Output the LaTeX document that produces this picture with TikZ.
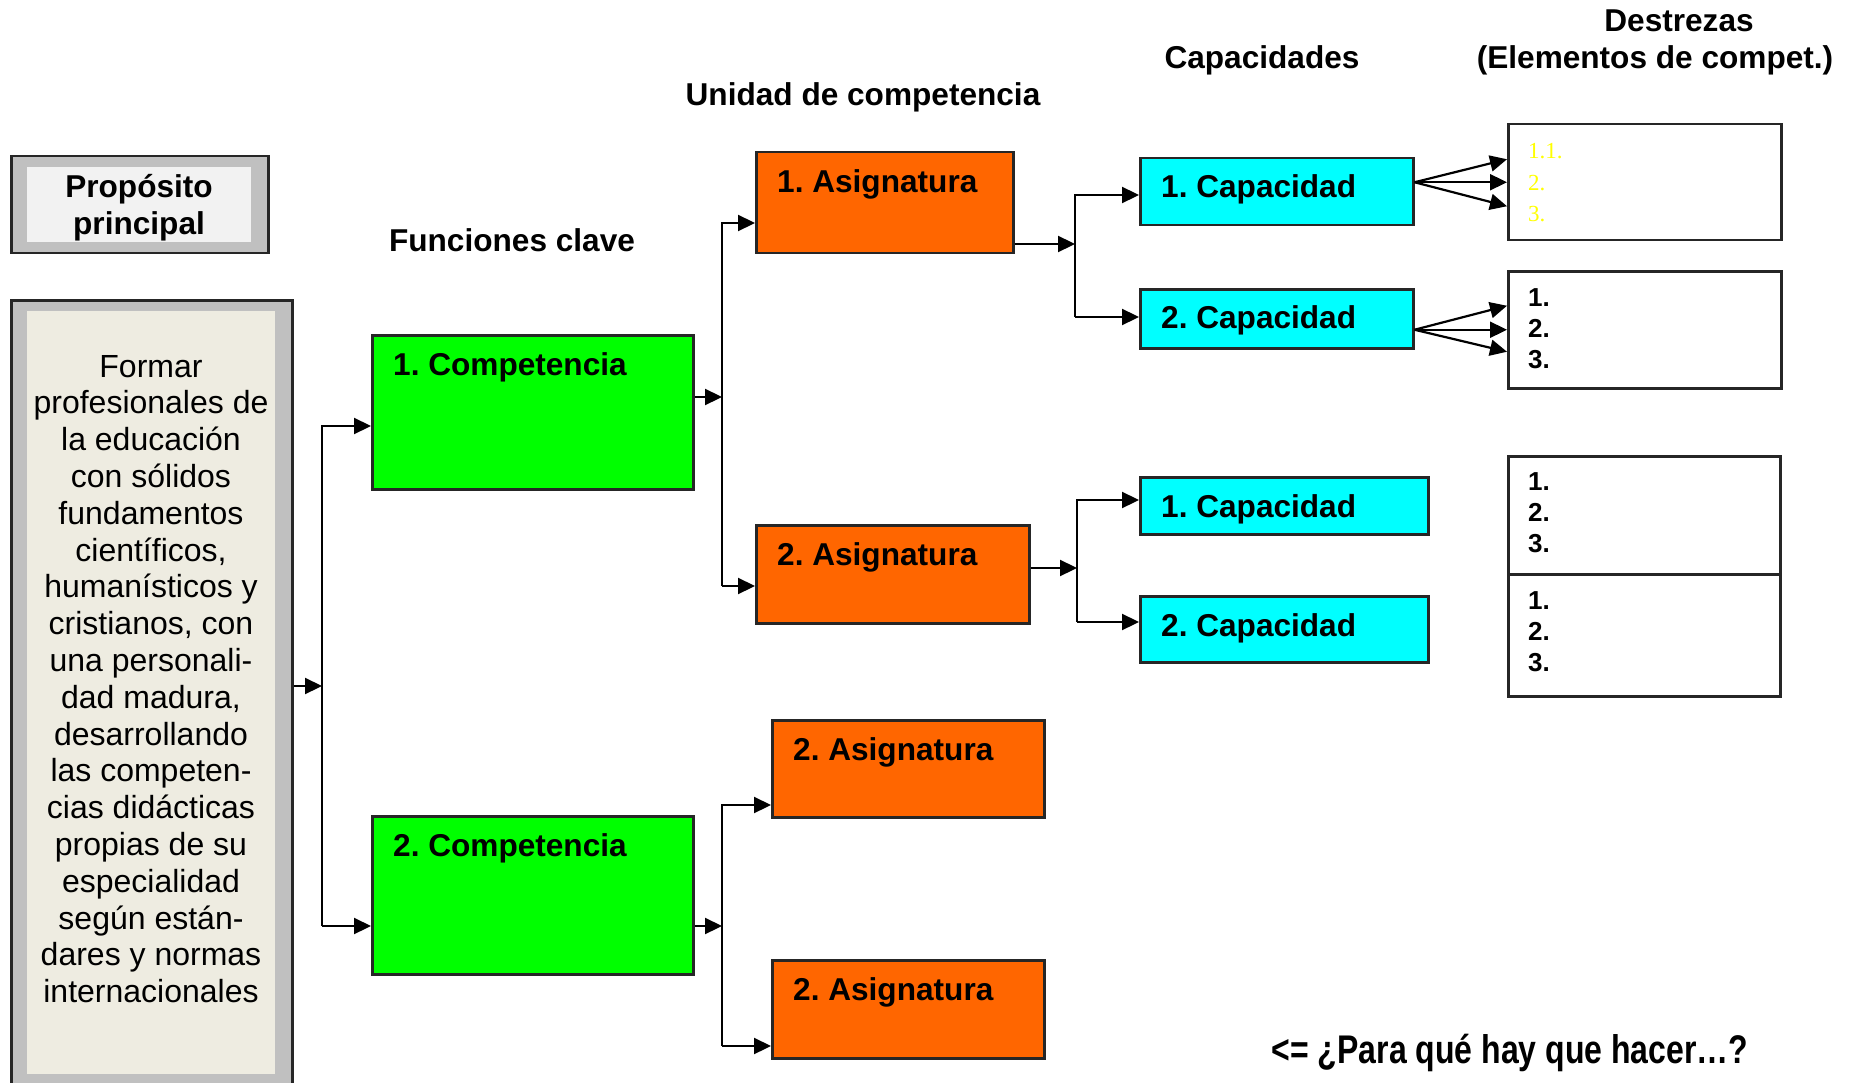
\documentclass[tikz,border=0pt]{standalone}
\usepackage{fontspec}
\setmainfont{Liberation Sans}
\newfontfamily\serifa{Liberation Serif}
\newfontfamily\estrecha[FakeStretch=0.8]{Liberation Sans}
\usetikzlibrary{arrows.meta,positioning,calc}
\frenchspacing

\definecolor{verde}{HTML}{00FF00}
\definecolor{naranja}{HTML}{FF6600}
\definecolor{celeste}{HTML}{00FFFF}
\definecolor{grisborde}{HTML}{C0C0C0}
\definecolor{grisclaro}{HTML}{F2F2F2}
\definecolor{beige}{HTML}{EEECE1}
\definecolor{amarillo}{HTML}{FFFF00}

\begin{document}
\begin{tikzpicture}[x=1pt,y=-1pt,
  caja/.style={rectangle,draw=black!85,line width=2.5pt,anchor=north west,inner sep=0pt},
  panel/.style={rectangle,anchor=north west,inner sep=0pt},
  etiqueta/.style={anchor=base west,inner sep=0pt,font=\fontsize{31.6}{38}\selectfont\bfseries},
  titulo/.style={anchor=base,inner sep=0pt,font=\fontsize{31.6}{37}\selectfont\bfseries},
  numeros/.style={anchor=base west,inner sep=0pt,align=left,text width=80pt,font=\fontsize{26}{31.3}\selectfont\bfseries},
  flecha/.style={line width=2.2pt,-{Triangle[length=17pt,width=16pt]}},
  linea/.style={line width=2.2pt}]
\useasboundingbox (0,0) rectangle (1854,1083);

% column headings
\node[titulo, name=hdestrezas] at (1679,32) {Destrezas};
\node[titulo, name=helementos] at (1655,69) {(Elementos de compet.)};
\node[titulo, name=hcapacidades] at (1262,69) {Capacidades};
\node[titulo, name=hunidad] at (863,106) {Unidad de competencia};
\node[titulo, name=hfunciones] at (512,252) {Funciones clave};

% purpose boxes
\node[caja, fill=grisborde, minimum width=257pt, minimum height=97pt, name=cabecera] at (10,155) {};
\node[panel, fill=grisclaro, minimum width=224pt, minimum height=75pt, name=cabecerafondo] at (27,167) {};
\node[align=center, font=\fontsize{31.6}{37}\selectfont\bfseries, inner sep=0pt, name=cabeceratexto] at (139,207.5) {Propósito\\principal};

\node[caja, fill=grisborde, minimum width=281pt, minimum height=796pt, name=proposito] at (10,299) {};
\node[panel, fill=beige, minimum width=248pt, minimum height=763pt, name=propositofondo] at (27,311) {};
\node[align=center, font=\fontsize{32}{36.8}\selectfont, inner sep=0pt, name=propositotexto] at (151,679)
  {Formar\\profesionales de\\la educación\\con sólidos\\fundamentos\\científicos,\\humanísticos y\\cristianos, con\\una personali-\\dad madura,\\desarrollando\\las competen-\\cias didácticas\\propias de su\\especialidad\\según están-\\dares y normas\\internacionales};

% key functions
\node[caja, fill=verde, minimum width=321pt, minimum height=154pt, name=comp1] at (371,334) {};
\node[caja, fill=verde, minimum width=321pt, minimum height=158pt, name=comp2] at (371,815) {};
\node[etiqueta, name=comp1t] at ([shift={(22pt,-41.5pt)}]comp1.north west) {1. Competencia};
\node[etiqueta, name=comp2t] at ([shift={(22pt,-41.5pt)}]comp2.north west) {2. Competencia};

% subjects
\node[caja, fill=naranja, minimum width=257pt, minimum height=101pt, name=asig1] at (755,151) {};
\node[caja, fill=naranja, minimum width=273pt, minimum height=98pt, name=asig2] at (755,524) {};
\node[caja, fill=naranja, minimum width=272pt, minimum height=97pt, name=asig3] at (771,719) {};
\node[caja, fill=naranja, minimum width=272pt, minimum height=98pt, name=asig4] at (771,959) {};
\node[etiqueta, name=asig1t] at ([shift={(22pt,-41.5pt)}]asig1.north west) {1. Asignatura};
\node[etiqueta, name=asig2t] at ([shift={(22pt,-41.5pt)}]asig2.north west) {2. Asignatura};
\node[etiqueta, name=asig3t] at ([shift={(22pt,-41.5pt)}]asig3.north west) {2. Asignatura};
\node[etiqueta, name=asig4t] at ([shift={(22pt,-41.5pt)}]asig4.north west) {2. Asignatura};

% capacities
\node[caja, fill=celeste, minimum width=273pt, minimum height=67pt, name=cap1] at (1139,157) {};
\node[caja, fill=celeste, minimum width=273pt, minimum height=59pt, name=cap2] at (1139,288) {};
\node[caja, fill=celeste, minimum width=288pt, minimum height=57pt, name=cap3] at (1139,476) {};
\node[caja, fill=celeste, minimum width=288pt, minimum height=66pt, name=cap4] at (1139,595) {};
\node[etiqueta, name=cap1t] at ([shift={(22pt,-41pt)}]cap1.north west) {1. Capacidad};
\node[etiqueta, name=cap2t] at ([shift={(22pt,-40pt)}]cap2.north west) {2. Capacidad};
\node[etiqueta, name=cap3t] at ([shift={(22pt,-41pt)}]cap3.north west) {1. Capacidad};
\node[etiqueta, name=cap4t] at ([shift={(22pt,-41pt)}]cap4.north west) {2. Capacidad};

% skills
\node[caja, fill=white, minimum width=273pt, minimum height=116pt, name=des1] at (1507,123) {};
\node[caja, fill=white, minimum width=273pt, minimum height=117pt, name=des2] at (1507,270) {};
\node[caja, fill=white, minimum width=272pt, minimum height=118pt, name=des3] at (1507,455) {};
\node[caja, fill=white, minimum width=272pt, minimum height=122pt, name=des4] at (1507,573) {};
\node[numeros, font=\fontsize{23}{31.5}\selectfont\serifa, text=amarillo, name=des1t] at ([shift={(21pt,-36pt)}]des1.north west) {1.1.\\2.\\3.};
\node[numeros, name=des2t] at ([shift={(21pt,-36pt)}]des2.north west) {1.\\2.\\3.};
\node[numeros, name=des3t] at ([shift={(21pt,-35pt)}]des3.north west) {1.\\2.\\3.};
\node[numeros, name=des4t] at ([shift={(21pt,-36pt)}]des4.north west) {1.\\2.\\3.};

% question at the bottom
\node[anchor=base, inner sep=0pt, font=\fontsize{40}{46}\selectfont\estrecha\bfseries, name=pregunta] at (1510,1063) {<= ¿Para qué hay que hacer…?};

% junction points
\coordinate (j0a) at (322,426);
\coordinate (j0m) at (322,686);
\coordinate (j0b) at (322,926);
\coordinate (j1a) at (722,223);
\coordinate (j1m) at (722,397);
\coordinate (j1b) at (722,586);
\coordinate (j2a) at (722,805);
\coordinate (j2m) at (722,926);
\coordinate (j2b) at (722,1046);
\coordinate (j3a) at (1075,195);
\coordinate (j3m) at (1075,244);
\coordinate (j3b) at (1075,317);
\coordinate (j4a) at (1077,500);
\coordinate (j4m) at (1077,568);
\coordinate (j4b) at (1077,622);

% purpose -> functions
\draw[flecha] (proposito.east |- j0m) -- (j0m);
\draw[flecha] (j0b) -- (j0a) -- (comp1.west |- j0a);
\draw[flecha] (j0b) -- (comp2.west |- j0b);

% functions -> subjects
\draw[flecha] (comp1.east |- j1m) -- (j1m);
\draw[flecha] (j1b) -- (j1a) -- (asig1.west |- j1a);
\draw[flecha] (j1b) -- (asig2.west |- j1b);
\draw[flecha] (comp2.east |- j2m) -- (j2m);
\draw[flecha] (j2b) -- (j2a) -- (asig3.west |- j2a);
\draw[flecha] (j2b) -- (asig4.west |- j2b);

% subjects -> capacities
\draw[flecha] (asig1.east |- j3m) -- (j3m);
\draw[flecha] (j3b) -- (j3a) -- (cap1.west |- j3a);
\draw[flecha] (j3b) -- (cap2.west |- j3b);
\draw[flecha] (asig2.east |- j4m) -- (j4m);
\draw[flecha] (j4b) -- (j4a) -- (cap3.west |- j4a);
\draw[flecha] (j4b) -- (cap4.west |- j4b);

% capacities -> skills
\draw[flecha] (cap1.east |- des1.west) -- ([yshift=23pt]des1.west);
\draw[flecha] (cap1.east |- des1.west) -- (des1.west);
\draw[flecha] (cap1.east |- des1.west) -- ([yshift=-24pt]des1.west);
\draw[flecha] (cap2.east |- des2.west) -- ([yshift=24pt]des2.west);
\draw[flecha] (cap2.east |- des2.west) -- (des2.west);
\draw[flecha] (cap2.east |- des2.west) -- ([yshift=-22pt]des2.west);
\end{tikzpicture}
\end{document}
